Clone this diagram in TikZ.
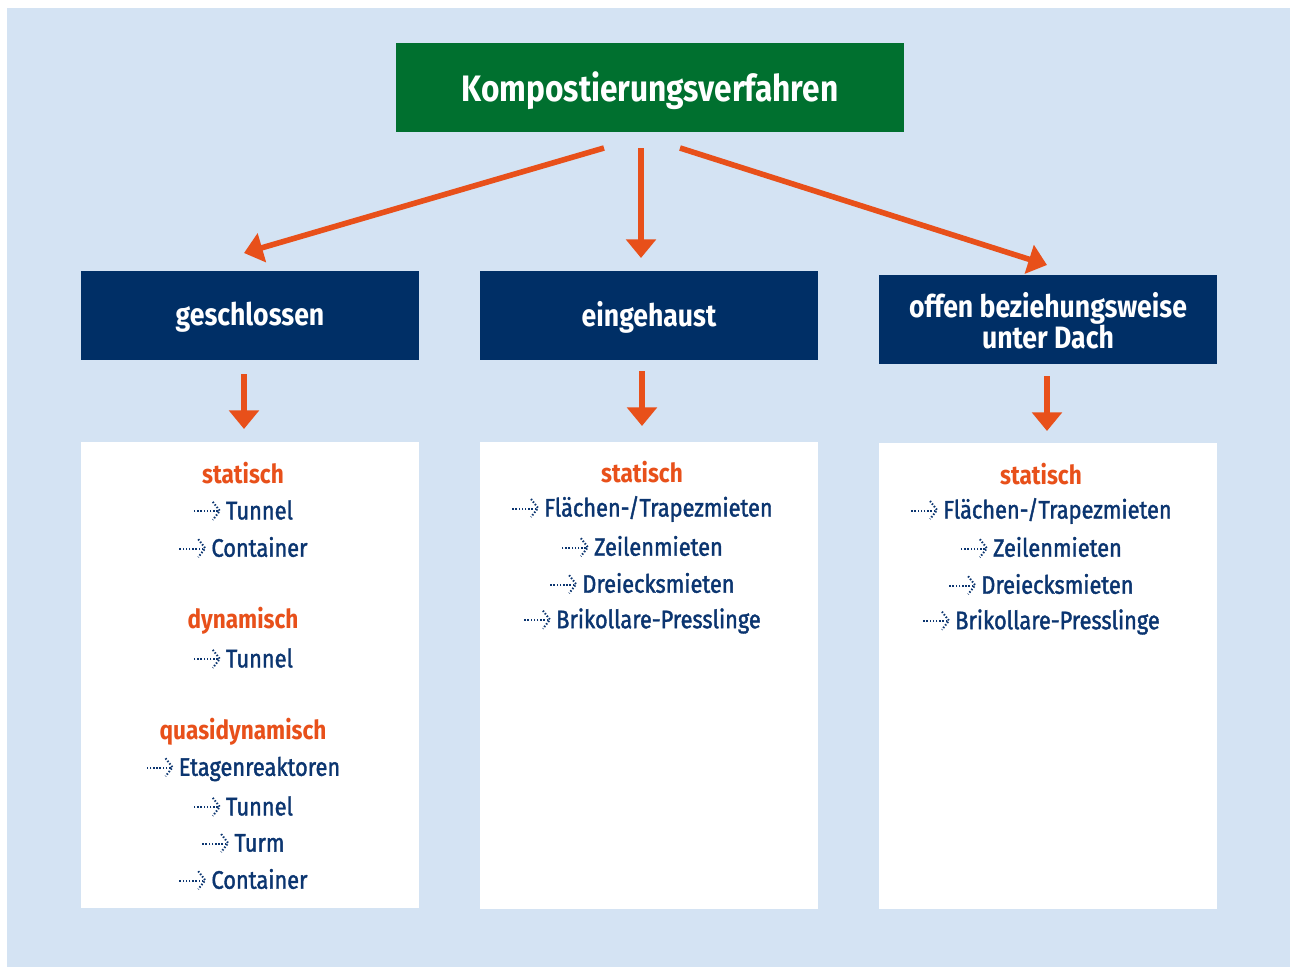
\documentclass[tikz,border=0pt]{standalone}
\usepackage{fontspec}
\setmainfont{Fira Sans}[FakeStretch=0.86]
\usetikzlibrary{arrows.meta}
\definecolor{bgblue}{HTML}{D4E3F3}
\definecolor{topgreen}{HTML}{00702F}
\definecolor{navy}{HTML}{002F66}
\definecolor{txtnavy}{HTML}{0B3570}
\definecolor{orng}{HTML}{E8501A}
\tikzset{
  toptitle/.style={fill=topgreen, text=white, font=\bfseries\fontsize{27.6}{30}\selectfont, minimum width=381pt, minimum height=67pt, inner sep=0pt},
  catbox/.style={fill=navy, text=white, font=\bfseries\fontsize{23.2}{23}\selectfont, minimum width=253.5pt, minimum height=67pt, inner sep=0pt, align=center},
  bigarrow/.style={draw=orng, line width=4.2pt, -{Triangle[length=14pt,width=22pt]}},
  kind/.style={text=orng, font=\bfseries\fontsize{19.7}{20}\selectfont, inner sep=0pt},
  entry/.style={text=txtnavy, font=\fontsize{19}{20}\selectfont\addfontfeature{FakeBold=1.5}, inner sep=0pt},
  dotline/.style={draw=txtnavy, line width=1.5pt, dash pattern=on 1.1pt off 1.3pt},
}
\newcommand\entry[3]{%
  \node[entry] (#1) at ([shift={(16.5,0)}]#2) {#3};
  \coordinate (#1t) at ([shift={(-6,-8.5)}]#1.base west);
  \draw[dotline] ([shift={(-2,0.5)}]#1t) -- ([shift={(-27,0.5)}]#1t);
  \draw[dotline] ([shift={(-7,-9)}]#1t) -- (#1t) -- ([shift={(-7,9)}]#1t);
}
\begin{document}
\begin{tikzpicture}[x=0.75pt,y=-0.75pt]
\useasboundingbox (0,0) rectangle (1290,967);
\fill[bgblue] (7,8) rectangle (1290,967);
\fill[topgreen] (396,43) rectangle (904,132);
\node[toptitle, fill=none] (top) at (650,91) {Kompostierungsverfahren};
\fill[navy] (81,271) rectangle (419,360);
\fill[navy] (480,271) rectangle (818,360);
\fill[navy] (879,275) rectangle (1217,364);
\node[catbox, fill=none] (geschl) at (250,317.5) {geschlossen};
\node[catbox, fill=none] (eing) at (649,317.5) {eingehaust};
\node[catbox, fill=none] (offen) at (1048,320.5) {offen beziehungsweise\\unter Dach};
\fill[white] (81,442) rectangle (419,908);
\fill[white] (480,442) rectangle (818,909);
\fill[white] (879,443) rectangle (1217,909);
\coordinate (a1s) at (604,148); \coordinate (a1e) at (244,253);
\coordinate (a2s) at (641,148); \coordinate (a2e) at (641,258);
\coordinate (a3s) at (680,148); \coordinate (a3e) at (1047,265);
\draw[bigarrow] (a1s) -- (a1e);
\draw[bigarrow] (a2s) -- (a2e);
\draw[bigarrow] (a3s) -- (a3e);
\coordinate (b1s) at (244,374); \coordinate (b1e) at (244,429);
\coordinate (b2s) at (642,371); \coordinate (b2e) at (642,426);
\coordinate (b3s) at (1047,376); \coordinate (b3e) at (1047,431);
\draw[bigarrow] (b1s) -- (b1e);
\draw[bigarrow] (b2s) -- (b2e);
\draw[bigarrow] (b3s) -- (b3e);
% left column
\node[kind] (k1) at (243,473) {statisch};
\entry{l1}{243,510}{Tunnel}
\entry{l2}{243,547}{Container}
\node[kind] (k2) at (243,621) {dynamisch};
\entry{l3}{243,658}{Tunnel}
\node[kind] (k3) at (243,732) {quasidynamisch};
\entry{l4}{243,769}{Etagenreaktoren}
\entry{l5}{243,806}{Tunnel}
\entry{l6}{243,843}{Turm}
\entry{l7}{243,879}{Container}
% middle column
\node[kind] (k4) at (642,472) {statisch};
\entry{m1}{642,509}{Flächen-/Trapezmieten}
\entry{m2}{642,546}{Zeilenmieten}
\entry{m3}{642,583}{Dreiecksmieten}
\entry{m4}{642,621}{Brikollare-Presslinge}
% right column
\node[kind] (k5) at (1041,474) {statisch};
\entry{r1}{1041,511}{Flächen-/Trapezmieten}
\entry{r2}{1041,547}{Zeilenmieten}
\entry{r3}{1041,584}{Dreiecksmieten}
\entry{r4}{1041,622}{Brikollare-Presslinge}
\end{tikzpicture}
\end{document}
